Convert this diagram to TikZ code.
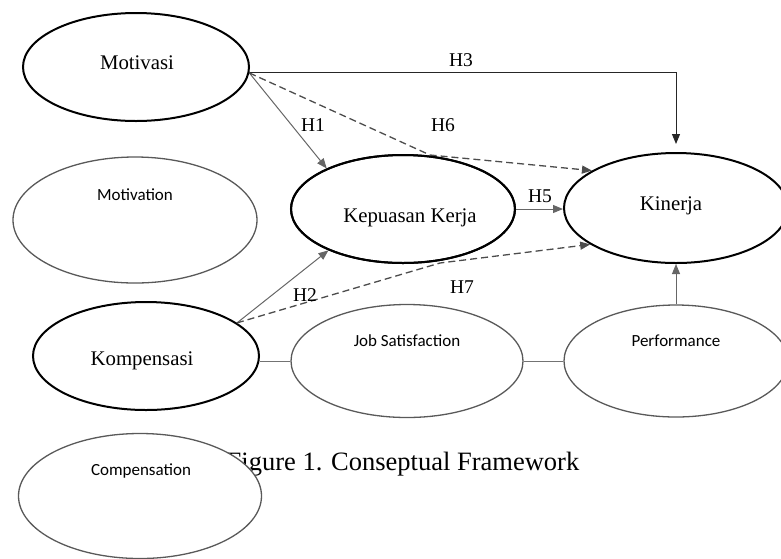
\documentclass[tikz,border=0pt]{standalone}
\usepackage{fontspec}
\setmainfont{Liberation Serif}
\newfontfamily\calib{Carlito}
\usetikzlibrary{shapes.geometric,arrows.meta,calc}
\begin{document}
\begin{tikzpicture}[x=1pt,y=-1pt,
  mainell/.style={ellipse,draw=black,line width=2pt,fill=white,inner sep=0pt},
  subell/.style={ellipse,draw=black!65,line width=1.3pt,fill=white,inner sep=0pt},
  serift/.style={font=\fontsize{20.8}{23}\selectfont,inner sep=0pt},
  sanst/.style={font=\calib\fontsize{17}{19}\selectfont,inner sep=0pt},
  hlab/.style={font=\fontsize{19.5}{21}\selectfont,inner sep=0pt},
  arr/.style={-{Triangle[length=10pt,width=8pt]}},
  solidg/.style={draw=black!60,line width=1pt},
  solidb/.style={draw=black!85,line width=1pt},
  dashln/.style={draw=black!70,line width=1.3pt,dash pattern=on 7pt off 4pt},
  thinl/.style={draw=black!55,line width=1pt}]
\useasboundingbox (0,0) rectangle (781,558);

% caption (partly hidden by the Compensation ellipse)
\node[font=\fontsize{26.5}{29}\selectfont,anchor=base,inner sep=0pt] (cap) at (403,470) {Figure 1. Conseptual Framework};

% english ellipses
\node[subell,minimum width=244pt,minimum height=126pt] (motv) at (135,220) {};
\node[subell,minimum width=232pt,minimum height=113pt] (js) at (407,361) {};
\node[subell,minimum width=224pt,minimum height=112pt] (perf) at (676,361) {};
\node[subell,minimum width=243pt,minimum height=125pt] (comp) at (140,496) {};

% main ellipses
\node[mainell,minimum width=226pt,minimum height=108pt] (mot) at (136,67) {};
\node[mainell,minimum width=224pt,minimum height=108pt] (kep) at (403,209) {};
\node[mainell,minimum width=224pt,minimum height=110pt] (kin) at (676,208) {};
\node[mainell,minimum width=226pt,minimum height=108pt] (komp) at (146,356) {};

% bend points
\coordinate (b6) at (430,155);
\coordinate (b7) at (440,263);

% connectors
\draw[solidb,arr] (mot.-3) -| ([yshift=8pt]kin.north);
\draw[solidg,arr] (mot.-3) -- (kep.152);
\draw[dashln,arr] (mot.-3) -- (b6) -- (kin.156);
\draw[solidg,arr] (kep.east) -- (kep.east -| kin.west);
\draw[solidg,arr] (komp.20) -- (kep.209);
\draw[dashln,arr] (komp.20) -- (b7) -- (kin.203);
\draw[solidg,arr] (perf.north) -- (kin.south);
\draw[thinl] (js.west) -- (js.west -| komp.east);
\draw[thinl] (js.east) -- (perf.west);

% redraw main ellipse border over connectors
\draw[black,line width=2pt] (kep.center) ellipse [x radius=112pt,y radius=54pt];

% texts
\node[serift] (tmot) at (137,63) {Motivasi};
\node[serift] (tkep) at (410,218) {Kepuasan Kerja};
\node[serift] (tkin) at (671,206) {Kinerja};
\node[serift] (tkomp) at (142,361) {Kompensasi};
\node[sanst] (tmotv) at (135,195) {Motivation};
\node[sanst] (tjs) at (407,341) {Job Satisfaction};
\node[sanst] (tperf) at (676,341) {Performance};
\node[sanst] (tcomp) at (141,471) {Compensation};

% hypothesis labels
\node[hlab] (h1) at (313,125) {H1};
\node[hlab] (h6) at (443,125) {H6};
\node[hlab] (h3) at (461,60) {H3};
\node[hlab] (h5) at (540,196) {H5};
\node[hlab] (h2) at (305,295) {H2};
\node[hlab] (h7) at (462,287) {H7};
\end{tikzpicture}
\end{document}
